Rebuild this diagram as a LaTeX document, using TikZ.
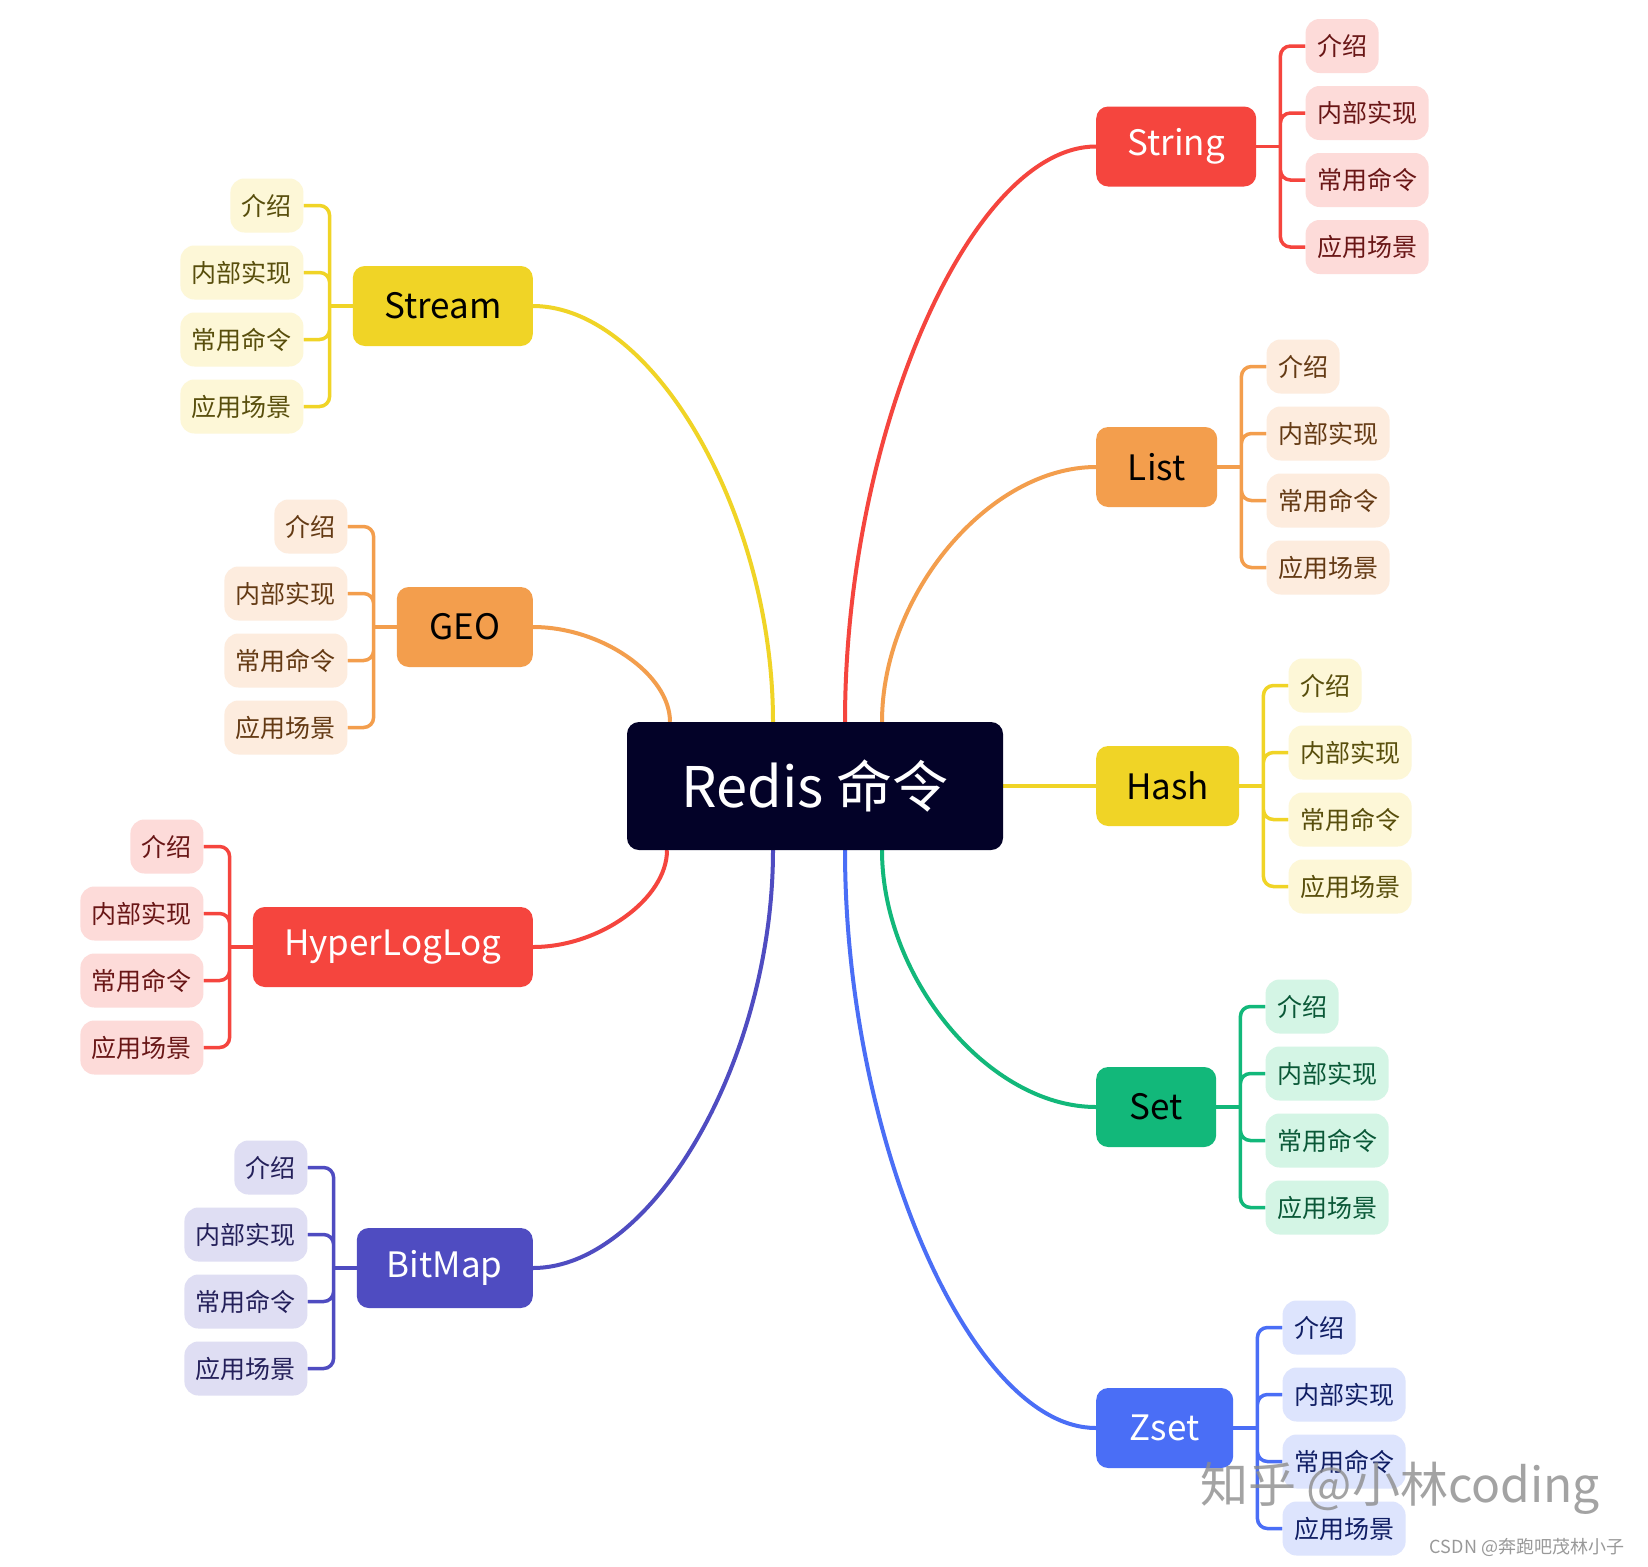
\documentclass[tikz,border=0pt]{standalone}
\usepackage{fontspec}
\setmainfont{Noto Sans CJK SC}
\usepackage{tikz}
\usetikzlibrary{calc, backgrounds}
\definecolor{ink}{RGB}{3, 2, 40}
\definecolor{redmid}{RGB}{245, 69, 62}
\definecolor{redlight}{RGB}{253, 219, 217}
\definecolor{reddark}{RGB}{105, 22, 22}
\definecolor{orangemid}{RGB}{243, 158, 77}
\definecolor{orangelight}{RGB}{253, 236, 222}
\definecolor{orangedark}{RGB}{100, 58, 20}
\definecolor{yellowmid}{RGB}{240, 212, 38}
\definecolor{yellowlight}{RGB}{253, 247, 215}
\definecolor{yellowdark}{RGB}{88, 78, 12}
\definecolor{greenmid}{RGB}{18, 184, 122}
\definecolor{greenlight}{RGB}{212, 245, 229}
\definecolor{greendark}{RGB}{10, 88, 55}
\definecolor{bluemid}{RGB}{74, 110, 246}
\definecolor{bluelight}{RGB}{221, 228, 253}
\definecolor{bluedark}{RGB}{16, 30, 100}
\definecolor{purplemid}{RGB}{79, 76, 193}
\definecolor{purplelight}{RGB}{223, 222, 243}
\definecolor{purpledark}{RGB}{36, 32, 90}
\newcommand*{\bend}[2]{.. controls ($(#1)!0.5!(#1 |- #2)$) and ($(#2)!0.5!(#1 |- #2)$) .. (#2)}

\tikzset{
  root/.style={rounded corners=12pt, fill=ink, text=white, minimum width=376pt,
    minimum height=128pt, font=\fontsize{56}{60}\selectfont},
  topic/.style={rounded corners=12pt, minimum height=80pt, inner sep=0pt,
    font=\fontsize{35}{40}\selectfont},
  leaf/.style={rounded corners=14pt, minimum height=54pt, inner xsep=11.5pt,
    inner ysep=0pt, font=\fontsize{25}{30}\selectfont},
  twig/.style={line width=4pt, draw=#1},
  fork/.style={line width=3.5pt, draw=#1, rounded corners=10pt},
}

\begin{document}
\begin{tikzpicture}[x=1pt, y=-1pt]
  \begin{scope}[on background layer]
    \fill[white] (0, 0) rectangle (1648, 1566);
  \end{scope}
  \useasboundingbox (0, 0) rectangle (1648, 1566);

  \node[root] (redis) at (815, 786) {Redis 命令};

  % right side
  \node[topic, fill=redmid, text=white, minimum width=160pt, anchor=west] (string) at (1096, 146.5) {String};
  \node[topic, fill=orangemid, text=black, minimum width=121pt, anchor=west] (list) at (1096, 467) {List};
  \node[topic, fill=yellowmid, text=black, minimum width=143pt, anchor=west] (hash) at (1096, 786) {Hash};
  \node[topic, fill=greenmid, text=black, minimum width=120pt, anchor=west] (set) at (1096, 1107) {Set};
  \node[topic, fill=bluemid, text=white, minimum width=137pt, anchor=west] (zset) at (1096, 1428) {Zset};

  % left side
  \node[topic, fill=yellowmid, text=black, minimum width=180pt, anchor=east] (stream) at (533, 306) {Stream};
  \node[topic, fill=orangemid, text=black, minimum width=136pt, anchor=east] (geo) at (533, 627) {GEO};
  \node[topic, fill=redmid, text=white, minimum width=280pt, anchor=east] (hll) at (533, 947) {HyperLogLog};
  \node[topic, fill=purplemid, text=white, minimum width=176pt, anchor=east] (bitmap) at (533, 1268) {BitMap};

  % leaves
  \node[leaf, fill=redlight, text=reddark, anchor=west] (string-1) at ($(string.east)+(49,-100.5)$) {介绍};
  \node[leaf, fill=redlight, text=reddark, anchor=west] (string-2) at ($(string.east)+(49,-33.5)$) {内部实现};
  \node[leaf, fill=redlight, text=reddark, anchor=west] (string-3) at ($(string.east)+(49,33.5)$) {常用命令};
  \node[leaf, fill=redlight, text=reddark, anchor=west] (string-4) at ($(string.east)+(49,100.5)$) {应用场景};

  \node[leaf, fill=orangelight, text=orangedark, anchor=west] (list-1) at ($(list.east)+(49,-100.5)$) {介绍};
  \node[leaf, fill=orangelight, text=orangedark, anchor=west] (list-2) at ($(list.east)+(49,-33.5)$) {内部实现};
  \node[leaf, fill=orangelight, text=orangedark, anchor=west] (list-3) at ($(list.east)+(49,33.5)$) {常用命令};
  \node[leaf, fill=orangelight, text=orangedark, anchor=west] (list-4) at ($(list.east)+(49,100.5)$) {应用场景};

  \node[leaf, fill=yellowlight, text=yellowdark, anchor=west] (hash-1) at ($(hash.east)+(49,-100.5)$) {介绍};
  \node[leaf, fill=yellowlight, text=yellowdark, anchor=west] (hash-2) at ($(hash.east)+(49,-33.5)$) {内部实现};
  \node[leaf, fill=yellowlight, text=yellowdark, anchor=west] (hash-3) at ($(hash.east)+(49,33.5)$) {常用命令};
  \node[leaf, fill=yellowlight, text=yellowdark, anchor=west] (hash-4) at ($(hash.east)+(49,100.5)$) {应用场景};

  \node[leaf, fill=greenlight, text=greendark, anchor=west] (set-1) at ($(set.east)+(49,-100.5)$) {介绍};
  \node[leaf, fill=greenlight, text=greendark, anchor=west] (set-2) at ($(set.east)+(49,-33.5)$) {内部实现};
  \node[leaf, fill=greenlight, text=greendark, anchor=west] (set-3) at ($(set.east)+(49,33.5)$) {常用命令};
  \node[leaf, fill=greenlight, text=greendark, anchor=west] (set-4) at ($(set.east)+(49,100.5)$) {应用场景};

  \node[leaf, fill=bluelight, text=bluedark, anchor=west] (zset-1) at ($(zset.east)+(49,-100.5)$) {介绍};
  \node[leaf, fill=bluelight, text=bluedark, anchor=west] (zset-2) at ($(zset.east)+(49,-33.5)$) {内部实现};
  \node[leaf, fill=bluelight, text=bluedark, anchor=west] (zset-3) at ($(zset.east)+(49,33.5)$) {常用命令};
  \node[leaf, fill=bluelight, text=bluedark, anchor=west] (zset-4) at ($(zset.east)+(49,100.5)$) {应用场景};

  \node[leaf, fill=yellowlight, text=yellowdark, anchor=east] (stream-1) at ($(stream.west)+(-49,-100.5)$) {介绍};
  \node[leaf, fill=yellowlight, text=yellowdark, anchor=east] (stream-2) at ($(stream.west)+(-49,-33.5)$) {内部实现};
  \node[leaf, fill=yellowlight, text=yellowdark, anchor=east] (stream-3) at ($(stream.west)+(-49,33.5)$) {常用命令};
  \node[leaf, fill=yellowlight, text=yellowdark, anchor=east] (stream-4) at ($(stream.west)+(-49,100.5)$) {应用场景};

  \node[leaf, fill=orangelight, text=orangedark, anchor=east] (geo-1) at ($(geo.west)+(-49,-100.5)$) {介绍};
  \node[leaf, fill=orangelight, text=orangedark, anchor=east] (geo-2) at ($(geo.west)+(-49,-33.5)$) {内部实现};
  \node[leaf, fill=orangelight, text=orangedark, anchor=east] (geo-3) at ($(geo.west)+(-49,33.5)$) {常用命令};
  \node[leaf, fill=orangelight, text=orangedark, anchor=east] (geo-4) at ($(geo.west)+(-49,100.5)$) {应用场景};

  \node[leaf, fill=redlight, text=reddark, anchor=east] (hll-1) at ($(hll.west)+(-49,-100.5)$) {介绍};
  \node[leaf, fill=redlight, text=reddark, anchor=east] (hll-2) at ($(hll.west)+(-49,-33.5)$) {内部实现};
  \node[leaf, fill=redlight, text=reddark, anchor=east] (hll-3) at ($(hll.west)+(-49,33.5)$) {常用命令};
  \node[leaf, fill=redlight, text=reddark, anchor=east] (hll-4) at ($(hll.west)+(-49,100.5)$) {应用场景};

  \node[leaf, fill=purplelight, text=purpledark, anchor=east] (bitmap-1) at ($(bitmap.west)+(-49,-100.5)$) {介绍};
  \node[leaf, fill=purplelight, text=purpledark, anchor=east] (bitmap-2) at ($(bitmap.west)+(-49,-33.5)$) {内部实现};
  \node[leaf, fill=purplelight, text=purpledark, anchor=east] (bitmap-3) at ($(bitmap.west)+(-49,33.5)$) {常用命令};
  \node[leaf, fill=purplelight, text=purpledark, anchor=east] (bitmap-4) at ($(bitmap.west)+(-49,100.5)$) {应用场景};

  \begin{scope}[on background layer]
    \coordinate (s-geo) at ($(redis.north)+(-145,0)$);
    \coordinate (s-stream) at ($(redis.north)+(-42,0)$);
    \coordinate (s-string) at ($(redis.north)+(30,0)$);
    \coordinate (s-list) at ($(redis.north)+(67,0)$);
    \coordinate (s-hll) at ($(redis.south)+(-148,0)$);
    \coordinate (s-bitmap) at ($(redis.south)+(-42,0)$);
    \coordinate (s-zset) at ($(redis.south)+(30,0)$);
    \coordinate (s-set) at ($(redis.south)+(67,0)$);

    \draw[twig=redmid] (s-string) \bend{s-string}{string.west};
    \draw[twig=orangemid] (s-list) \bend{s-list}{list.west};
    \draw[twig=yellowmid] (redis.east) -- (hash.west);
    \draw[twig=greenmid] (s-set) \bend{s-set}{set.west};
    \draw[twig=bluemid] (s-zset) \bend{s-zset}{zset.west};
    \draw[twig=yellowmid] (s-stream) \bend{s-stream}{stream.east};
    \draw[twig=orangemid] (s-geo) \bend{s-geo}{geo.east};
    \draw[twig=redmid] (s-hll) \bend{s-hll}{hll.east};
    \draw[twig=purplemid] (s-bitmap) \bend{s-bitmap}{bitmap.east};

    \draw[fork=redmid] (string.east) -- ++(24,0) coordinate (f-string);
    \draw[fork=redmid] (f-string) |- (string-1.west) (f-string) |- (string-2.west)
      (f-string) |- (string-3.west) (f-string) |- (string-4.west);
    \draw[fork=orangemid] (list.east) -- ++(24,0) coordinate (f-list);
    \draw[fork=orangemid] (f-list) |- (list-1.west) (f-list) |- (list-2.west)
      (f-list) |- (list-3.west) (f-list) |- (list-4.west);
    \draw[fork=yellowmid] (hash.east) -- ++(24,0) coordinate (f-hash);
    \draw[fork=yellowmid] (f-hash) |- (hash-1.west) (f-hash) |- (hash-2.west)
      (f-hash) |- (hash-3.west) (f-hash) |- (hash-4.west);
    \draw[fork=greenmid] (set.east) -- ++(24,0) coordinate (f-set);
    \draw[fork=greenmid] (f-set) |- (set-1.west) (f-set) |- (set-2.west)
      (f-set) |- (set-3.west) (f-set) |- (set-4.west);
    \draw[fork=bluemid] (zset.east) -- ++(24,0) coordinate (f-zset);
    \draw[fork=bluemid] (f-zset) |- (zset-1.west) (f-zset) |- (zset-2.west)
      (f-zset) |- (zset-3.west) (f-zset) |- (zset-4.west);

    \draw[fork=yellowmid] (stream.west) -- ++(-23,0) coordinate (f-stream);
    \draw[fork=yellowmid] (f-stream) |- (stream-1.east) (f-stream) |- (stream-2.east)
      (f-stream) |- (stream-3.east) (f-stream) |- (stream-4.east);
    \draw[fork=orangemid] (geo.west) -- ++(-23,0) coordinate (f-geo);
    \draw[fork=orangemid] (f-geo) |- (geo-1.east) (f-geo) |- (geo-2.east)
      (f-geo) |- (geo-3.east) (f-geo) |- (geo-4.east);
    \draw[fork=redmid] (hll.west) -- ++(-23,0) coordinate (f-hll);
    \draw[fork=redmid] (f-hll) |- (hll-1.east) (f-hll) |- (hll-2.east)
      (f-hll) |- (hll-3.east) (f-hll) |- (hll-4.east);
    \draw[fork=purplemid] (bitmap.west) -- ++(-23,0) coordinate (f-bitmap);
    \draw[fork=purplemid] (f-bitmap) |- (bitmap-1.east) (f-bitmap) |- (bitmap-2.east)
      (f-bitmap) |- (bitmap-3.east) (f-bitmap) |- (bitmap-4.east);
  \end{scope}

  % watermarks
  \node[text=black!45, opacity=0.8, font=\fontsize{48}{52}\selectfont] (zhihu) at (1400, 1488) {知乎 @小林coding};
  \node[text=black!40, font=\fontsize{18}{20}\selectfont] (csdn) at (1527, 1547) {CSDN @奔跑吧茂林小子};
\end{tikzpicture}
\end{document}
